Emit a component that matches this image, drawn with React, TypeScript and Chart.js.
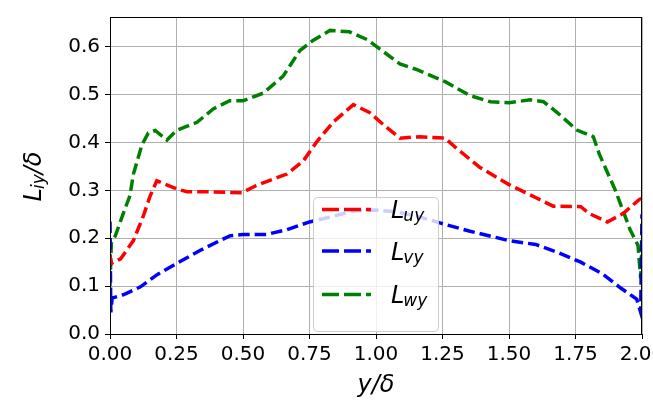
import { useEffect, useRef } from "react";
import { Chart, registerables } from "chart.js";

Chart.register(...registerables);

// L_uy (red)
const xUy = [0, 0.003, 0.04, 0.088, 0.125, 0.15, 0.176, 0.25, 0.29, 0.376, 0.496, 0.55, 0.63, 0.665, 0.726, 0.778, 0.84, 0.915, 0.977, 1.03, 1.09, 1.165, 1.26, 1.3, 1.39, 1.5, 1.6, 1.666, 1.77, 1.8, 1.87, 1.93, 1.99, 2.0];
const yUy = [0.165, 0.147, 0.157, 0.195, 0.246, 0.287, 0.32, 0.303, 0.297, 0.297, 0.295, 0.31, 0.327, 0.334, 0.361, 0.402, 0.443, 0.479, 0.462, 0.436, 0.409, 0.412, 0.409, 0.389, 0.348, 0.312, 0.285, 0.267, 0.266, 0.252, 0.234, 0.252, 0.281, 0.283];

// L_vy (blue)
const xVy = [0, 0.003, 0.008, 0.05, 0.113, 0.18, 0.25, 0.34, 0.45, 0.5, 0.59, 0.665, 0.75, 0.84, 0.915, 1.0, 1.08, 1.16, 1.24, 1.35, 1.5, 1.6, 1.68, 1.77, 1.85, 1.92, 1.98, 1.995, 2.0];
const yVy = [0.235, 0.045, 0.075, 0.082, 0.098, 0.125, 0.147, 0.175, 0.205, 0.208, 0.208, 0.218, 0.234, 0.246, 0.257, 0.259, 0.255, 0.245, 0.232, 0.215, 0.195, 0.187, 0.171, 0.15, 0.126, 0.096, 0.073, 0.045, 0.25];

// L_wy (green)
const xWy = [0, 0.005, 0.02, 0.05, 0.075, 0.088, 0.12, 0.144, 0.17, 0.214, 0.25, 0.327, 0.388, 0.45, 0.5, 0.576, 0.65, 0.714, 0.763, 0.827, 0.9, 0.966, 1.015, 1.09, 1.154, 1.26, 1.353, 1.43, 1.5, 1.58, 1.63, 1.68, 1.755, 1.817, 1.84, 1.9, 1.955, 1.985, 1.995, 2.0];
const yWy = [0.1, 0.19, 0.205, 0.252, 0.289, 0.334, 0.395, 0.42, 0.425, 0.405, 0.425, 0.442, 0.47, 0.487, 0.487, 0.503, 0.538, 0.592, 0.613, 0.634, 0.631, 0.615, 0.595, 0.564, 0.552, 0.527, 0.498, 0.485, 0.483, 0.489, 0.485, 0.463, 0.426, 0.412, 0.375, 0.3, 0.218, 0.185, 0.116, 0.185];

const seriesSubs = ["uy", "vy", "wy"];
const seriesColors = ["#ff0000", "#0000ff", "#008000"];

const FONT = "'DejaVu Sans', sans-serif";

function drawSubLabel(
  ctx: CanvasRenderingContext2D,
  x: number,
  y: number,
  main: string,
  sub: string,
  tail: string,
  big: number,
  small: number,
  subShift: number
) {
  ctx.font = `italic ${big}px ${FONT}`;
  ctx.fillText(main, x, y);
  let cx = x + ctx.measureText(main).width - 1;
  ctx.font = `italic ${small}px ${FONT}`;
  ctx.fillText(sub, cx, y + subShift);
  cx += ctx.measureText(sub).width;
  if (tail) {
    ctx.font = `italic ${big}px ${FONT}`;
    ctx.fillText(tail, cx, y);
  }
}

function measureSubLabel(ctx: CanvasRenderingContext2D, main: string, sub: string, tail: string, big: number, small: number) {
  ctx.font = `italic ${big}px ${FONT}`;
  let w = ctx.measureText(main).width - 1 + ctx.measureText(tail).width;
  ctx.font = `italic ${small}px ${FONT}`;
  w += ctx.measureText(sub).width;
  return w;
}

const decorPlugin = {
  id: "decor",
  afterDraw(chart: any) {
    const ctx: CanvasRenderingContext2D = chart.ctx;
    const ca = chart.chartArea;
    ctx.save();
    // frame
    ctx.strokeStyle = "#000";
    ctx.lineWidth = 1;
    ctx.setLineDash([]);
    ctx.strokeRect(Math.round(ca.left) + 0.5, Math.round(ca.top) + 0.5, Math.round(ca.right - ca.left) - 1, Math.round(ca.bottom - ca.top));

    // legend
    const lx = ca.left + 203.5;
    const ly = ca.top + 180.5;
    const lw = 125;
    const lh = 134;
    ctx.beginPath();
    (ctx as any).roundRect(lx, ly, lw, lh, 4);
    ctx.fillStyle = "rgba(255,255,255,0.8)";
    ctx.fill();
    ctx.strokeStyle = "#cccccc";
    ctx.stroke();
    const rowY = [209.5, 251, 294.5];
    chart.data.datasets.forEach((ds: any, i: number) => {
      const y = rowY[i];
      ctx.beginPath();
      ctx.strokeStyle = ds.borderColor;
      ctx.lineWidth = 3.5;
      ctx.setLineDash([17, 5]);
      ctx.moveTo(ca.left + 212, y);
      ctx.lineTo(ca.left + 261, y);
      ctx.stroke();
      ctx.setLineDash([]);
      ctx.fillStyle = "#000";
      ctx.textAlign = "left";
      ctx.textBaseline = "alphabetic";
      drawSubLabel(ctx, ca.left + 281, y + 8.5, "L", seriesSubs[i], "", 24, 17, 3);
    });

    // x title
    ctx.fillStyle = "#000";
    ctx.textAlign = "center";
    ctx.textBaseline = "middle";
    ctx.font = `italic 24px ${FONT}`;
    ctx.fillText("y/δ", (ca.left + ca.right) / 2, 386);

    // y title
    ctx.save();
    ctx.translate(35, (ca.top + ca.bottom) / 2 + 1);
    ctx.rotate(-Math.PI / 2);
    ctx.textAlign = "left";
    ctx.textBaseline = "middle";
    const tw = measureSubLabel(ctx, "L", "iy", "/δ", 24, 17);
    drawSubLabel(ctx, -tw / 2, 0, "L", "iy", "/δ", 24, 17, 5);
    ctx.restore();

    ctx.restore();
  },
};

export default function App() {
  const ref = useRef<HTMLCanvasElement | null>(null);

  useEffect(() => {
    if (!ref.current) return;
    const mk = (xs: number[], ys: number[]) => xs.map((x, i) => ({ x, y: ys[i] }));
    const seriesX = [xUy, xVy, xWy];
    const seriesY = [yUy, yVy, yWy];
    const chart = new Chart(ref.current, {
      type: "line",
      data: {
        datasets: seriesX.map((xs, i) => ({
          label: "L" + seriesSubs[i],
          data: mk(xs, seriesY[i]),
          borderColor: seriesColors[i],
          backgroundColor: seriesColors[i],
          borderWidth: 3.5,
          borderDash: [11.5, 5],
          pointRadius: 0,
          fill: false,
          tension: 0,
          borderCapStyle: "butt",
        })),
      },
      options: {
        animation: false,
        responsive: false,
        devicePixelRatio: 1,
        events: [],
        layout: { padding: { top: 9, right: 38, left: 0, bottom: 0 } },
        plugins: { legend: { display: false }, tooltip: { enabled: false } },
        scales: {
          x: {
            type: "linear",
            min: 0,
            max: 2,
            afterFit: (s: any) => {
              s.height = 67;
            },
            ticks: {
              stepSize: 0.25,
              autoSkip: false,
              maxRotation: 0,
              padding: 4,
              color: "#000",
              font: { family: FONT, size: 20 },
              callback: (v: any) => Number(v).toFixed(2),
            },
            grid: { color: "#b0b0b0", lineWidth: 1, tickColor: "#000", tickLength: 5 },
            border: { display: true, color: "#000", width: 1 },
          },
          y: {
            type: "linear",
            min: 0,
            max: 0.662,
            afterFit: (s: any) => {
              s.width = 110;
            },
            ticks: {
              stepSize: 0.1,
              includeBounds: false,
              padding: 5,
              color: "#000",
              font: { family: FONT, size: 20 },
              callback: (v: any) => Number(v).toFixed(1),
            },
            grid: { color: "#b0b0b0", lineWidth: 1, tickColor: "#000", tickLength: 5 },
            border: { display: true, color: "#000", width: 1 },
          },
        },
      } as any,
      plugins: [decorPlugin],
    });
    return () => chart.destroy();
  }, []);

  return (
    <div style={{ position: "fixed", left: 0, top: 0, width: 653, height: 401, overflow: "hidden", background: "#fff" }}>
      <canvas ref={ref} width={680} height={401} style={{ display: "block" }} />
    </div>
  );
}
